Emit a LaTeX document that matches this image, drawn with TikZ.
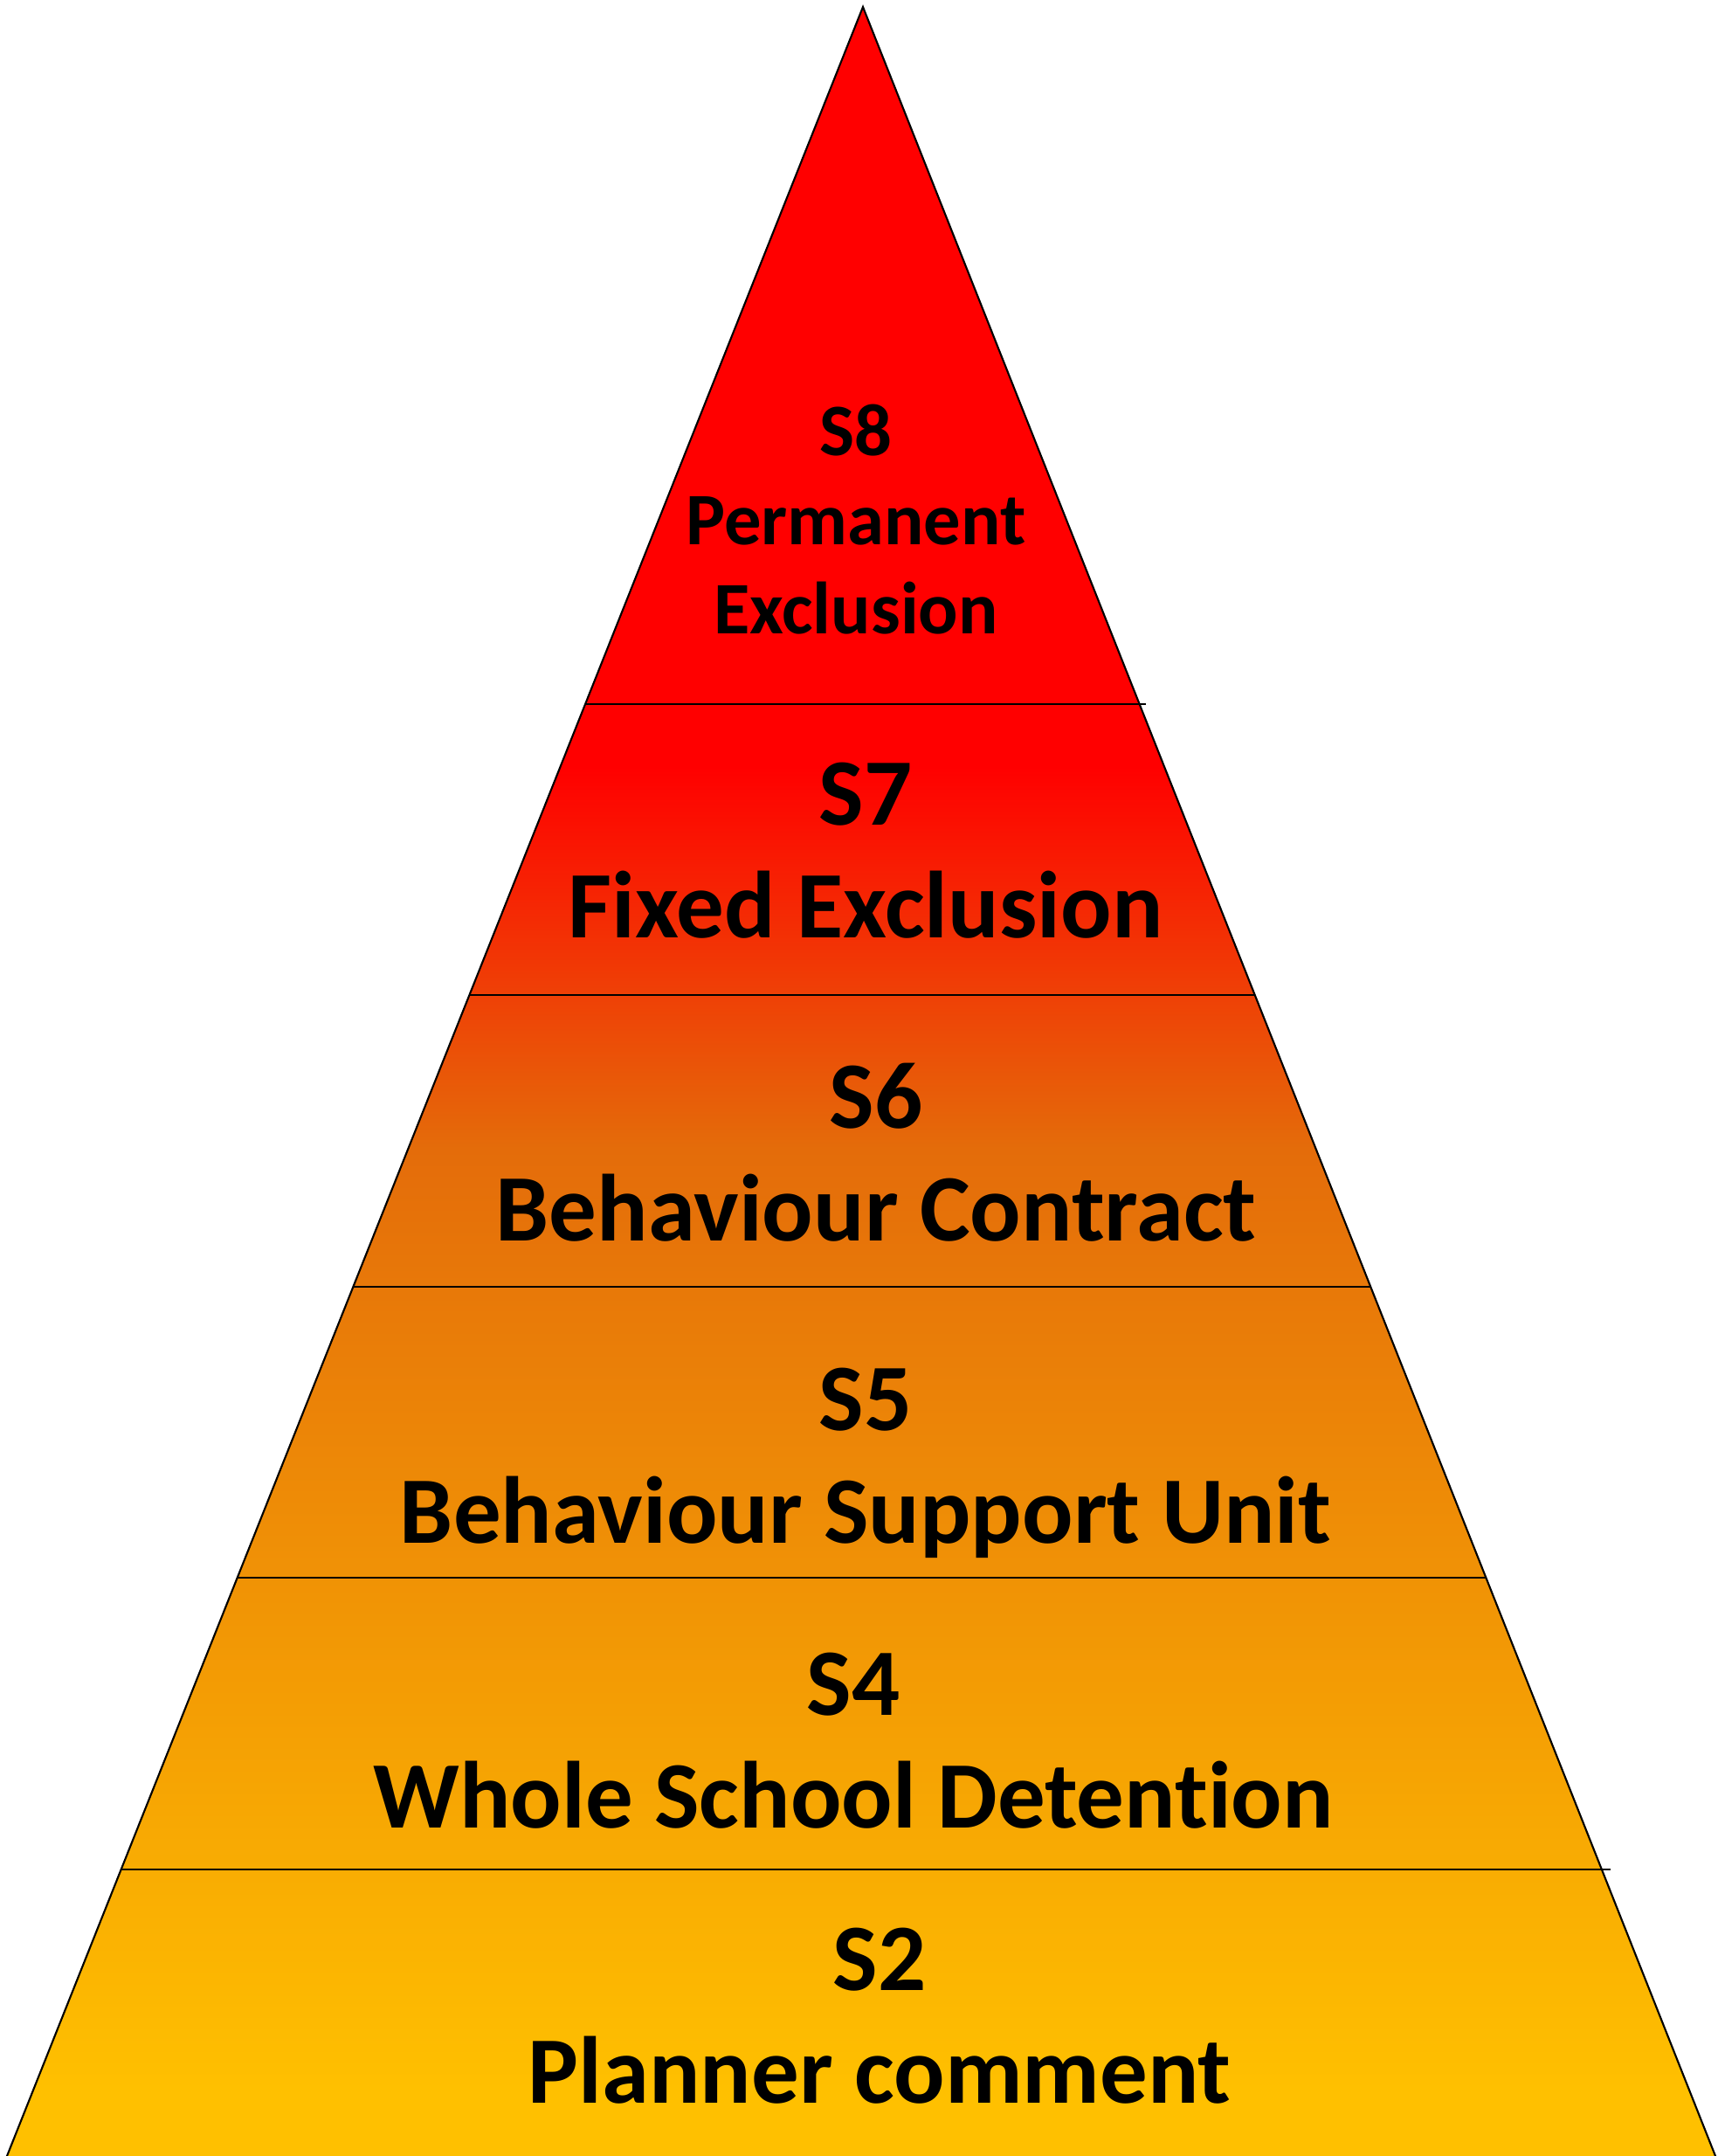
\documentclass[tikz,border=0pt]{standalone}
\usepackage{xcolor}
\usepackage{fontspec}
\setmainfont{Carlito}[RawFeature={-liga;-clig;-calt;-dlig}]
\usepackage{tikz}
\usetikzlibrary{calc,positioning}

\definecolor{tierred}{HTML}{FF0000}
\definecolor{tierorange}{HTML}{E46C0A}
\definecolor{tiergold}{HTML}{FFC000}
\pgfdeclareverticalshading{pyramidfade}{100bp}{color(0bp)=(tiergold); color(27bp)=(tiergold); color(48.7bp)=(tierorange); color(57.5bp)=(tierred); color(100bp)=(tierred)}

\begin{document}
\begin{tikzpicture}
  % styles
  \tikzstyle{tier_text}=[inner sep=0pt, align=center, text=black, font=\bfseries\fontsize{31}{36.7}\selectfont]
  \tikzstyle{tier_text_small}=[tier_text, font=\bfseries\fontsize{24.1}{29}\selectfont]
  \tikzstyle{edge}=[draw=black, line width=0.6pt]
  \tikzstyle{tier_line}=[draw=black, line width=0.55pt]

  \useasboundingbox (0,0) rectangle (19.67,24.68);

  % pyramid
  \coordinate (apex) at (9.88,24.60);
  \coordinate (base_left) at (0.08,0);
  \coordinate (base_right) at (19.64,0);
  \shade [shading=pyramidfade] ($(apex)!1.01!(base_left)$) -- (apex) -- ($(apex)!1.01!(base_right)$) -- cycle;
  \draw [edge] ($(apex)!1.01!(base_left)$) -- (apex) -- ($(apex)!1.01!(base_right)$);

  % tier separators
  \foreach \r/\over in {0.6756/0.07, 0.5402/0, 0.4045/0, 0.2691/0, 0.1333/0.1} {
    \coordinate (sep_left) at ($(base_left)!\r!(apex)$);
    \coordinate (sep_right) at ($(base_right)!\r!(apex)$);
    \draw [tier_line] (sep_left) -- ($(sep_right)+(\over,0)$);
  }

  % tiers
  \node [tier_text_small] (permanent_exclusion) at (9.80,18.73) {S8\\Permanent\\Exclusion};
  \node [tier_text] (fixed_exclusion) at (9.91,14.94) {S7\\Fixed Exclusion};
  \node [tier_text] (behaviour_contract) at (10.03,11.49) {S6\\Behaviour Contract};
  \node [tier_text] (behaviour_support_unit) at (9.91,7.93) {S5\\Behaviour Support Unit};
  \node [tier_text] (whole_school_detention) at (9.77,4.75) {S4\\Whole School Detention};
  \node [tier_text] (planner_comment) at (10.07,1.60) {S2\\Planner comment};
\end{tikzpicture}
\end{document}
